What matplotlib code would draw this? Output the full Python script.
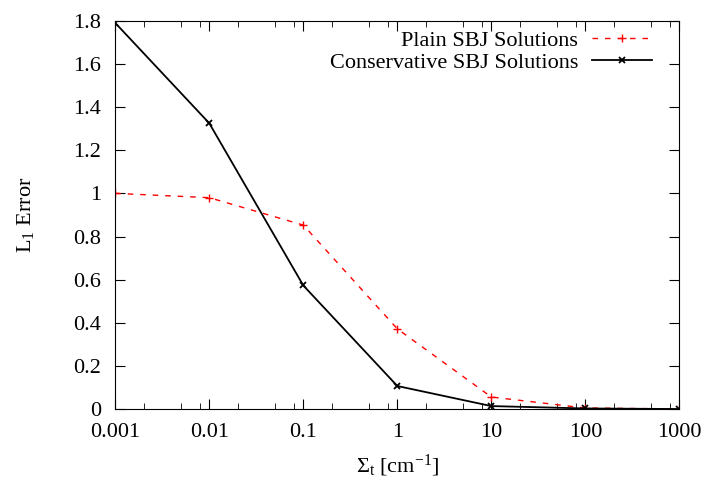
import matplotlib
matplotlib.use('Agg')
import matplotlib.pyplot as plt
from matplotlib.ticker import LogLocator, FixedLocator, NullFormatter

plt.rcParams['font.family'] = ['Liberation Serif', 'DejaVu Serif']
plt.rcParams['mathtext.default'] = 'regular'
plt.rcParams['font.size'] = 16

# data
sigma_t = [0.001, 0.01, 0.1, 1, 10, 100, 1000]
plain_err = [1.0, 0.98, 0.853, 0.372, 0.056, 0.005, 0.0005]
cons_err = [1.79, 1.325, 0.573, 0.107, 0.014, 0.003, 0.0003]
x_ticklabels = ['0.001', '0.01', '0.1', '1', '10', '100', '1000']
y_ticks = [0, 0.2, 0.4, 0.6, 0.8, 1.0, 1.2, 1.4, 1.6, 1.8]
y_ticklabels = ['0', '0.2', '0.4', '0.6', '0.8', '1', '1.2', '1.4', '1.6', '1.8']

fig, ax = plt.subplots(figsize=(7.07, 4.83), dpi=100)
fig.subplots_adjust(left=0.163, right=0.961, top=0.957, bottom=0.153)

ax.plot(sigma_t, plain_err, color='red', linestyle=(0, (4, 5)), linewidth=1.0,
        marker='+', markersize=6, markeredgewidth=1.0, label='Plain SBJ Solutions')
ax.plot(sigma_t, cons_err, color='black', linestyle='-', linewidth=1.3,
        marker='x', markersize=5, markeredgewidth=1.3, label='Conservative SBJ Solutions')

ax.set_xscale('log')
ax.set_xlim(0.001, 1000)
ax.set_ylim(0, 1.8)
ax.xaxis.set_major_locator(FixedLocator(sigma_t))
ax.set_xticklabels(x_ticklabels)
ax.xaxis.set_minor_locator(LogLocator(base=10, subs=[2, 5, 8]))
ax.xaxis.set_minor_formatter(NullFormatter())
ax.set_yticks(y_ticks)
ax.set_yticklabels(y_ticklabels)

ax.tick_params(which='both', direction='in', top=True, right=True, labelsize=16, pad=10)
ax.tick_params(which='major', length=7)
ax.tick_params(which='minor', length=4)

ax.set_xlabel(r'$\Sigma_t$ [cm$^{-1}$]', fontsize=16, labelpad=8)
ax.set_ylabel(r'$L_1$ Error', fontsize=16, labelpad=27)

ax.legend(loc='upper right', bbox_to_anchor=(0.986, 1.026), frameon=False,
          markerfirst=False, fontsize=16, handlelength=2.7, handletextpad=0.6,
          borderaxespad=0.6, borderpad=0.3, labelspacing=0.05)

fig.savefig('out.png', dpi=100)
